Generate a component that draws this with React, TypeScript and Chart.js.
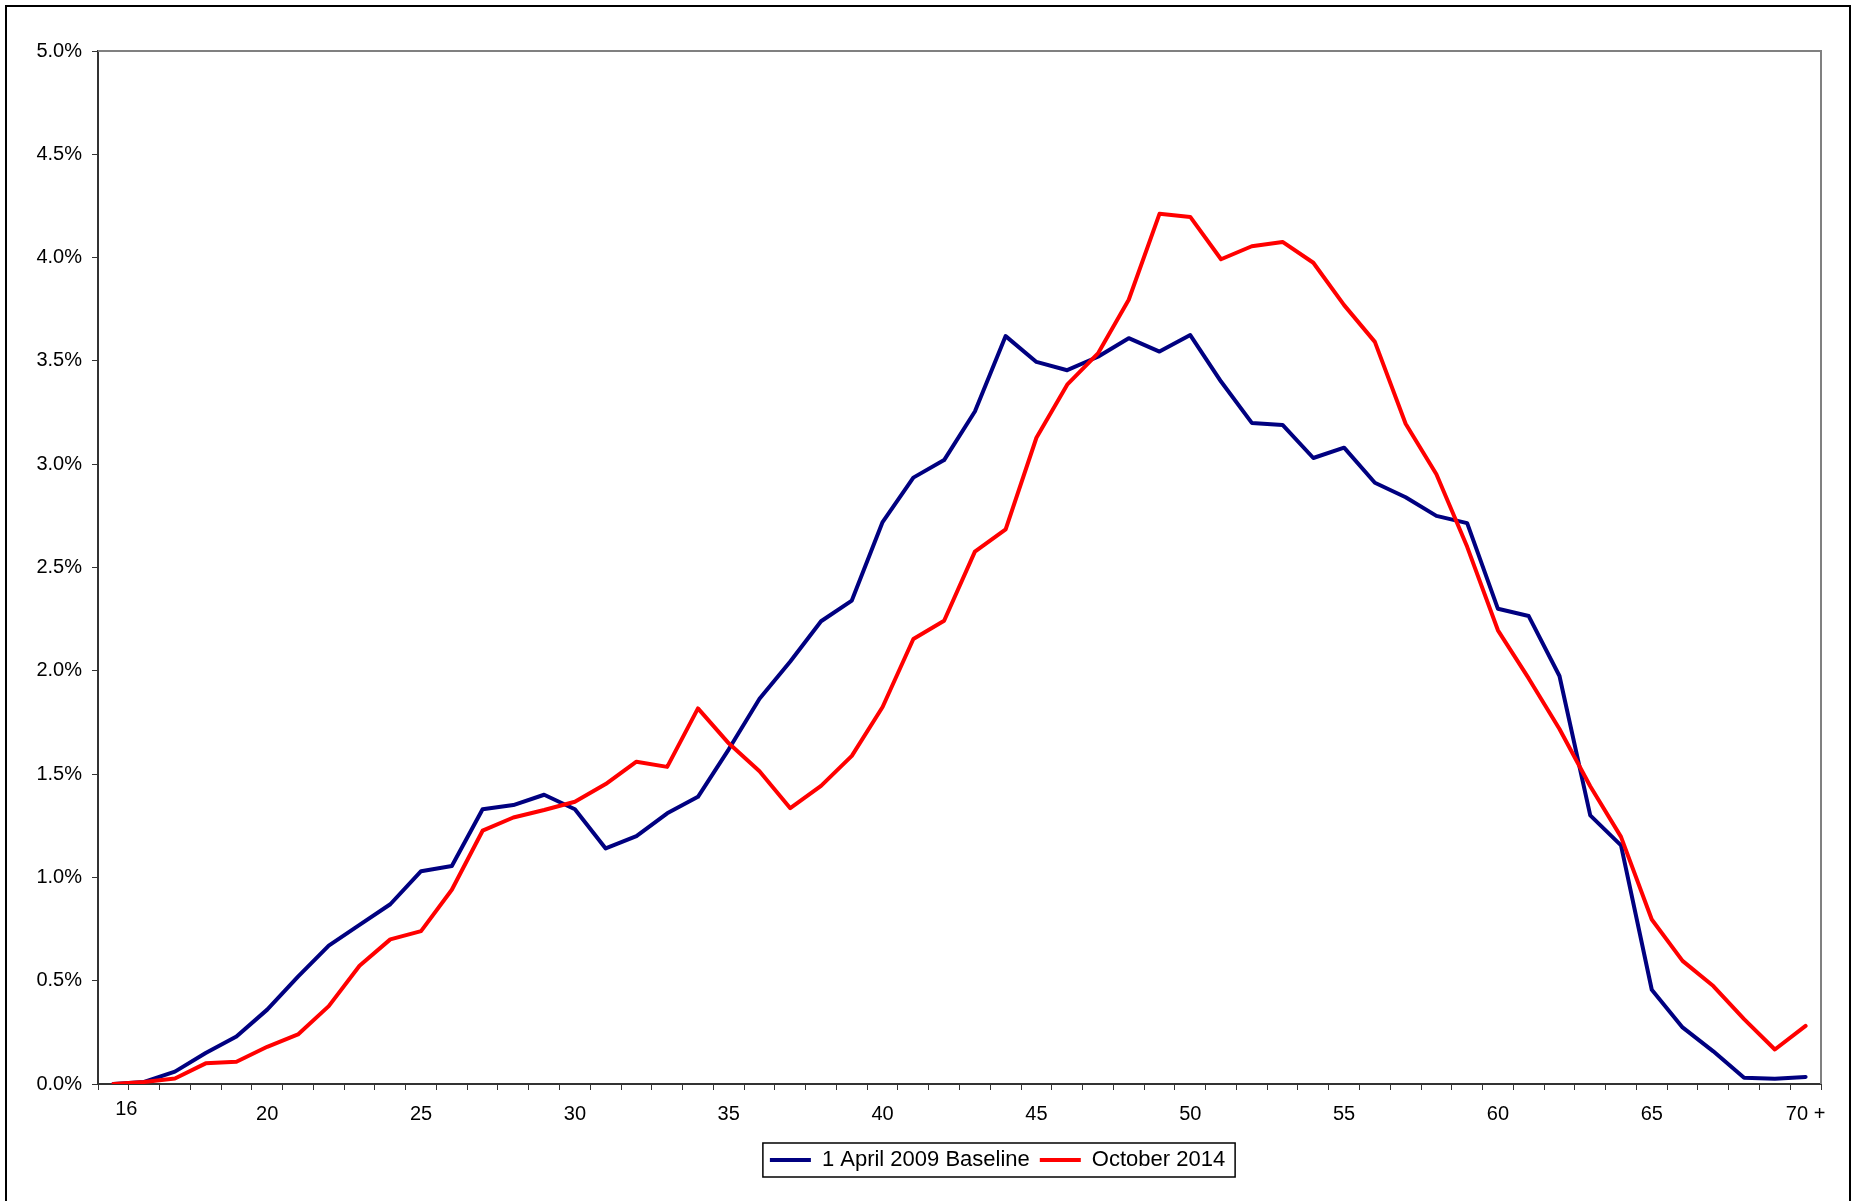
import React, { useEffect, useRef } from "react";
import { Chart, registerables } from "chart.js";

Chart.register(...registerables);

const ageCategories = [
  "15", "16", "17", "18", "19", "20", "21", "22", "23", "24",
  "25", "26", "27", "28", "29", "30", "31", "32", "33", "34",
  "35", "36", "37", "38", "39", "40", "41", "42", "43", "44",
  "45", "46", "47", "48", "49", "50", "51", "52", "53", "54",
  "55", "56", "57", "58", "59", "60", "61", "62", "63", "64",
  "65", "66", "67", "68", "69", "70 +",
];

const shownAgeLabels = ["20", "25", "30", "35", "40", "45", "50", "55", "60", "65", "70 +"];
const firstAgeLabel = "16";

const baseline2009 = [
  0.0, 0.01, 0.06, 0.15, 0.23, 0.36, 0.52, 0.67, 0.77, 0.87,
  1.03, 1.055, 1.33, 1.35, 1.4, 1.33, 1.14, 1.2, 1.31, 1.39,
  1.62, 1.865, 2.045, 2.24, 2.34, 2.72, 2.935, 3.02, 3.255, 3.62,
  3.495, 3.455, 3.52, 3.61, 3.545, 3.625, 3.4, 3.2, 3.19, 3.03,
  3.08, 2.91, 2.84, 2.75, 2.715, 2.3, 2.265, 1.975, 1.3, 1.155,
  0.456, 0.274, 0.158, 0.03, 0.025, 0.034,
];

const october2014 = [
  0.0, 0.01, 0.027, 0.1, 0.108, 0.18, 0.24, 0.377, 0.572, 0.7,
  0.74, 0.94, 1.226, 1.29, 1.326, 1.366, 1.452, 1.56, 1.535, 1.818,
  1.649, 1.514, 1.335, 1.443, 1.588, 1.825, 2.154, 2.242, 2.577, 2.685,
  3.128, 3.385, 3.536, 3.796, 4.212, 4.197, 3.992, 4.055, 4.076, 3.975,
  3.77, 3.592, 3.196, 2.951, 2.6, 2.196, 1.963, 1.718, 1.441, 1.196,
  0.796, 0.596, 0.474, 0.314, 0.167, 0.281,
];

const seriesLabels = ["1 April 2009 Baseline", "October 2014"];
const seriesColors = ["#000080", "#FF0000"];

const yMin = 0;
const yMax = 5;
const yStep = 0.5;

const FONT = '"Liberation Sans", Arial, Helvetica, sans-serif';
const TICK_SIZE = 20;
const W = 1854;
const H = 1201;

export default function App() {
  const canvasRef = useRef<HTMLCanvasElement | null>(null);

  useEffect(() => {
    const canvas = canvasRef.current;
    if (!canvas) return;

    const layoutPlugin = {
      id: "legendShift",
      afterLayout(chart: any) {
        const lg = chart.legend;
        if (!lg) return;
        const target = 997.5;
        const d = target - (lg.left + lg.right) / 2;
        lg.left += d;
        lg.right += d;
      },
    };

    const framePlugin = {
      id: "plotFrame",
      beforeDatasetsDraw(chart: any) {
        const { ctx, chartArea } = chart;
        ctx.save();
        ctx.strokeStyle = "#808080";
        ctx.lineWidth = 2;
        ctx.beginPath();
        ctx.moveTo(chartArea.left, chartArea.top);
        ctx.lineTo(chartArea.right, chartArea.top);
        ctx.lineTo(chartArea.right, chartArea.bottom);
        ctx.stroke();
        ctx.restore();
      },
      afterDraw(chart: any) {
        const { ctx } = chart;
        const lg = chart.legend;
        ctx.save();
        if (lg && lg.legendHitBoxes && lg.legendHitBoxes.length) {
          const boxes = lg.legendHitBoxes;
          const first = boxes[0];
          const last = boxes[boxes.length - 1];
          const left = first.left - 7;
          const right = last.left + last.width + 10;
          const cy = first.top + first.height / 2;
          ctx.strokeStyle = "#000";
          ctx.lineWidth = 1.5;
          ctx.strokeRect(left, cy - 17, right - left, 34);
        }
        const xs = chart.scales.x;
        ctx.fillStyle = "#000";
        ctx.font = `${TICK_SIZE}px ${FONT}`;
        ctx.textAlign = "center";
        ctx.textBaseline = "middle";
        ctx.fillText(firstAgeLabel, xs.getPixelForValue(0.42), xs.top + 6 + 12 + 11.4 - 4);
        ctx.restore();
      },
    };

    const chart = new Chart(canvas, {
      type: "line",
      data: {
        labels: ageCategories,
        datasets: [
          {
            label: seriesLabels[0],
            data: baseline2009,
            borderColor: seriesColors[0],
            backgroundColor: seriesColors[0],
            borderWidth: 4,
            pointRadius: 0,
            pointHoverRadius: 0,
            tension: 0,
            fill: false,
            borderJoinStyle: "round",
            borderCapStyle: "round",
            order: 1,
          },
          {
            label: seriesLabels[1],
            data: october2014,
            borderColor: seriesColors[1],
            backgroundColor: seriesColors[1],
            borderWidth: 4,
            pointRadius: 0,
            pointHoverRadius: 0,
            tension: 0,
            fill: false,
            borderJoinStyle: "round",
            borderCapStyle: "round",
            order: 0,
          },
        ],
      },
      options: {
        animation: false,
        responsive: false,
        maintainAspectRatio: false,
        devicePixelRatio: 1,
        layout: { padding: { top: 51, right: 33, bottom: 20, left: 0 } },
        plugins: {
          title: { display: false },
          tooltip: { enabled: false },
          legend: {
            position: "bottom",
            labels: {
              usePointStyle: true,
              pointStyle: "line",
              pointStyleWidth: 41,
              padding: 10,
              color: "#000",
              font: { family: FONT, size: 22 },
              sort: (a: any, b: any) => a.datasetIndex - b.datasetIndex,
            },
          },
        },
        scales: {
          x: {
            type: "category",
            offset: true,
            grid: {
              offset: true,
              drawOnChartArea: false,
              drawTicks: true,
              tickLength: 6,
              color: "#333",
              lineWidth: 1,
            },
            border: { display: true, color: "#333", width: 2 },
            ticks: {
              autoSkip: false,
              maxRotation: 0,
              minRotation: 0,
              padding: 12,
              color: "#000",
              font: { family: FONT, size: TICK_SIZE },
              callback: (_v: any, i: number) =>
                shownAgeLabels.includes(ageCategories[i]) ? ageCategories[i] : "",
            },
            afterFit: (s: any) => {
              s.height = 55;
            },
          },
          y: {
            min: yMin,
            max: yMax,
            grid: {
              drawOnChartArea: false,
              drawTicks: true,
              tickLength: 6,
              color: "#333",
              lineWidth: 1,
            },
            border: { display: true, color: "#333", width: 2 },
            ticks: {
              stepSize: yStep,
              padding: 10,
              color: "#000",
              font: { family: FONT, size: TICK_SIZE },
              callback: (v: any) => Number(v).toFixed(1) + "%",
            },
            afterFit: (s: any) => {
              s.width = 98;
            },
          },
        },
      } as any,
      plugins: [layoutPlugin, framePlugin],
    });

    return () => {
      chart.destroy();
    };
  }, []);

  return (
    <div
      style={{
        position: "absolute",
        left: 0,
        top: 0,
        width: W,
        height: H,
        overflow: "hidden",
        background: "#fff",
      }}
    >
      <div
        style={{
          position: "absolute",
          left: 5,
          top: 5,
          width: 1842,
          height: 1300,
          border: "2px solid #000",
        }}
      />
      <canvas
        ref={canvasRef}
        width={W}
        height={H}
        style={{ position: "absolute", left: 0, top: 0, width: W, height: H }}
      />
    </div>
  );
}
